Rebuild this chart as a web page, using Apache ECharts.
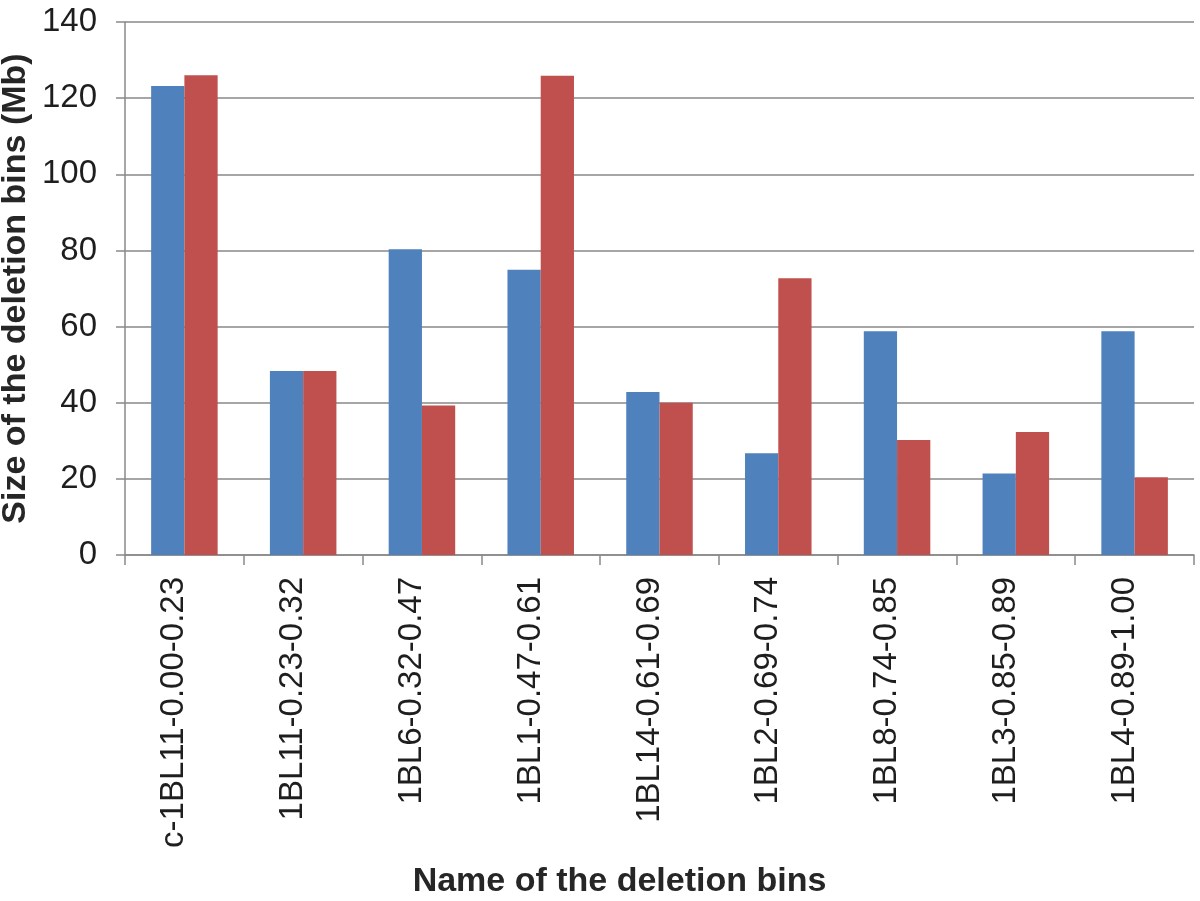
<!DOCTYPE html>
<html>
<head>
<meta charset="utf-8">
<script src="https://cdn.jsdelivr.net/npm/echarts@6/dist/echarts.min.js"></script>
<style>html,body{margin:0;padding:0;background:#fff}#c{width:1200px;height:901px}</style>
</head>
<body>
<div id="c"></div>
<script>
const categories = ['c-1BL11-0.00-0.23','1BL11-0.23-0.32','1BL6-0.32-0.47','1BL1-0.47-0.61','1BL14-0.61-0.69','1BL2-0.69-0.74','1BL8-0.74-0.85','1BL3-0.85-0.89','1BL4-0.89-1.00'];
const seriesA = [123.2, 48.3, 80.3, 74.9, 42.8, 26.7, 58.8, 21.4, 58.8];
const seriesB = [126.0, 48.3, 39.3, 125.9, 40.0, 72.7, 30.2, 32.3, 20.4];
const yTicks = {min: 0, max: 140, interval: 20};

const font = '"Liberation Sans", Arial, Helvetica, sans-serif';
const chart = echarts.init(document.getElementById('c'), null, {renderer: 'canvas'});
chart.setOption({
  animation: false,
  backgroundColor: '#fff',
  grid: {left: 125, right: 6, top: 22, bottom: 346, containLabel: false, outerBoundsMode: 'none'},
  xAxis: {
    type: 'category',
    data: categories,
    name: 'Name of the deletion bins',
    nameLocation: 'middle',
    nameGap: 310,
    nameMoveOverlap: false,
    nameTextStyle: {fontFamily: font, fontSize: 34, fontWeight: 'bold', color: '#262626', padding: [0, 80, 0, 0]},
    axisLine: {lineStyle: {color: '#898989', width: 1.5}},
    axisTick: {show: true, length: 10, lineStyle: {color: '#898989', width: 1.5}},
    axisLabel: {rotate: 90, margin: 22, fontFamily: font, fontSize: 33, color: '#1e1e1e', interval: 0, verticalAlign: 'bottom', lineHeight: 20}
  },
  yAxis: {
    type: 'value',
    min: yTicks.min, max: yTicks.max, interval: yTicks.interval,
    name: 'Size of the deletion bins (Mb)',
    nameLocation: 'middle',
    nameGap: 92,
    nameMoveOverlap: false,
    nameTextStyle: {fontFamily: font, fontSize: 34, fontWeight: 'bold', color: '#262626'},
    axisLine: {show: true, lineStyle: {color: '#898989', width: 1.5}},
    axisTick: {show: true, length: 9, lineStyle: {color: '#898989', width: 1.5}},
    axisLabel: {margin: 28, fontFamily: font, fontSize: 33, color: '#1e1e1e'},
    splitLine: {show: true, lineStyle: {color: '#898989', width: 1.5}}
  },
  series: [
    {type: 'bar', data: seriesA, itemStyle: {color: '#4F81BD'}, barGap: '0%', barCategoryGap: '44%'},
    {type: 'bar', data: seriesB, itemStyle: {color: '#C0504D'}, barGap: '0%', barCategoryGap: '44%'}
  ]
});
</script>
</body>
</html>
